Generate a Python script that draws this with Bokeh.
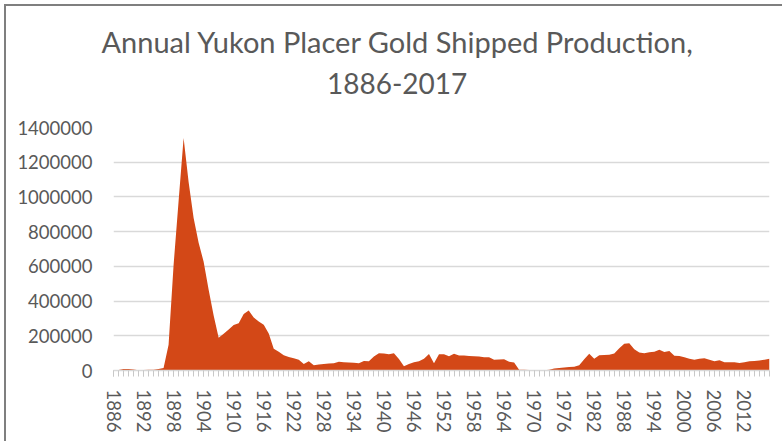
from bokeh.plotting import figure
from bokeh.models import Range1d, FixedTicker, NumeralTickFormatter, Title
from bokeh.embed import file_html
from bokeh.resources import INLINE

# ---------------- data ----------------
years = list(range(1886, 2018))
production = [
    2000, 3000, 8000, 9000, 6000, 2000, 3000, 5000, 5000, 8000,                 # 1886-1895
    14000, 148000, 608000, 977000, 1340000, 1086000, 878000, 736000, 627000, 465000,  # 1896-1905
    317000, 188000, 212000, 236000, 262000, 272000, 325000, 345000, 305000, 283000,   # 1906-1915
    263000, 213000, 125000, 108000, 88000, 78000, 70000, 62000, 38000, 54000,   # 1916-1925
    30000, 34000, 37000, 40000, 42000, 50000, 48000, 46000, 45000, 42000,       # 1926-1935
    55000, 53000, 80000, 100000, 98000, 93000, 100000, 66000, 25000, 38000,     # 1936-1945
    48000, 53000, 68000, 95000, 42000, 93000, 94000, 82000, 97000, 87000,       # 1946-1955
    86000, 84000, 82000, 80000, 77000, 76000, 62000, 63000, 65000, 50000,       # 1956-1965
    46000, 5000, 4000, 3000, 2000, 2000, 2000, 5000, 12000, 15000,              # 1966-1975
    18000, 20000, 22000, 30000, 65000, 96000, 67000, 88000, 89000, 91000,       # 1976-1985
    98000, 128000, 154000, 157000, 123000, 104000, 100000, 105000, 108000, 120000,  # 1986-1995
    107000, 112000, 85000, 83000, 77000, 67000, 62000, 68000, 71000, 62000,     # 1996-2005
    54000, 59000, 48000, 48000, 48000, 43000, 48000, 53000, 55000, 58000,       # 2006-2015
    62000, 67000,                                                               # 2016-2017
]
label_years = years[::6]
y_ticks = [0, 200000, 400000, 600000, 800000, 1000000, 1200000, 1400000]
title_line1 = "Annual Yukon Placer Gold Shipped Production,"
title_line2 = "1886-2017"

# ---------------- layout ----------------
W, H = 778, 437
ML, MR, MT, MB = 107, 15, 121, 73
TEXT = "#595959"
GRID = "#d9d9d9"
FONT = "Lato"

p = figure(width=W, height=H, output_backend="svg", toolbar_location=None,
           x_range=Range1d(years[0], years[-1]), y_range=Range1d(0, y_ticks[-1]),
           min_border_left=ML, min_border_right=MR, min_border_top=MT,
           min_border_bottom=MB, outline_line_color=None,
           background_fill_color="white", border_fill_color="white")
p.styles = {"border-left": "2px solid #7f7f7f", "border-top": "2px solid #7f7f7f",
            "margin-left": "4px", "margin-top": "4px"}

p.varea(x=years, y1=[0] * len(years), y2=production, fill_color="#D34817")

# grid
p.xgrid.visible = False
p.ygrid.grid_line_color = GRID
p.ygrid.grid_line_width = 1.5
p.ygrid.ticker = FixedTicker(ticks=y_ticks)

# y axis
ya = p.yaxis[0]
ya.ticker = FixedTicker(ticks=y_ticks)
ya.formatter = NumeralTickFormatter(format="0")
ya.axis_line_color = None
ya.major_tick_line_color = None
ya.minor_tick_line_color = None
ya.major_tick_out = 0
ya.major_tick_in = 0
ya.major_label_standoff = 21
ya.major_label_text_font = FONT
ya.major_label_text_font_size = "18.5px"
ya.major_label_text_color = TEXT

# x axis
xa = p.xaxis[0]
xa.ticker = FixedTicker(ticks=label_years, minor_ticks=years)
xa.axis_line_color = GRID
xa.axis_line_width = 1.5
xa.major_tick_line_color = "#c8c8c8"
xa.minor_tick_line_color = "#c8c8c8"
xa.major_tick_out = 6
xa.minor_tick_out = 6
xa.major_tick_in = 0
xa.minor_tick_in = 0
xa.major_label_orientation = "vertical"
xa.major_label_standoff = 13
xa.major_label_text_font = FONT
xa.major_label_text_font_size = "18.5px"
xa.major_label_text_color = TEXT

# title: outermost first line, then second line, then a spacer above the plot area
p.title = Title(text=title_line1, align="left", offset=-12, standoff=12.8,
                text_font=FONT, text_font_size="29px", text_font_style="normal",
                text_color=TEXT)
p.add_layout(Title(text=" ", text_font_size="1px", standoff=25.7), "above")
p.add_layout(Title(text=title_line2, align="left", offset=213.5, standoff=10,
                   text_font=FONT, text_font_size="28px", text_font_style="normal",
                   text_color=TEXT), "above")

open("out.html", "w").write(file_html(p, INLINE))
